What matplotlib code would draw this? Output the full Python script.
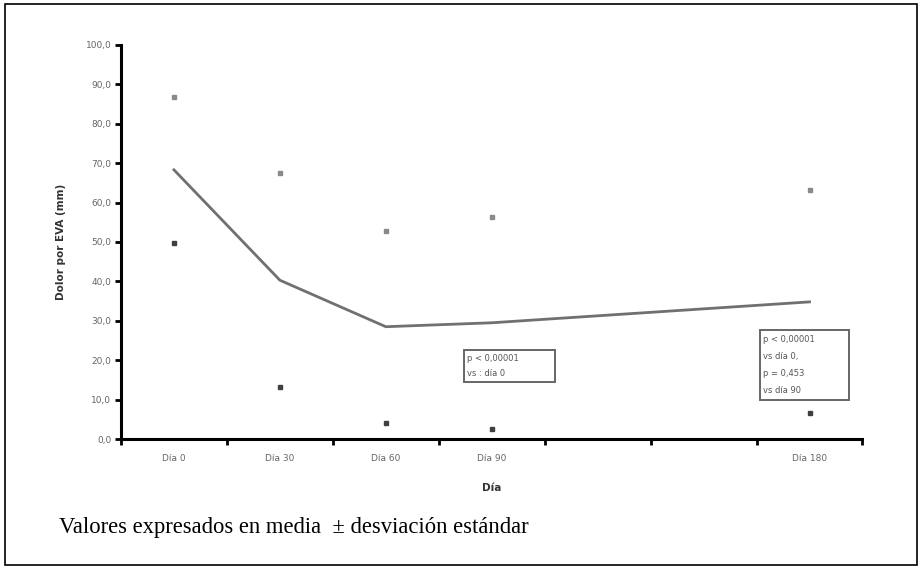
import numpy as np
import matplotlib
matplotlib.use("Agg")
import matplotlib.pyplot as plt
from matplotlib.patches import Rectangle

# categories on the x axis (two empty slots between Dia 90 and Dia 180)
dias = ["Día 0", "Día 30", "Día 60", "Día 90", "", "", "Día 180"]
# mean pain score (mm) and standard deviation, nan where no data
media = [68.3, 40.3, 28.5, 29.5, np.nan, np.nan, 34.8]
desv = [18.6, 27.1, 24.4, 26.9, np.nan, np.nan, 28.3]
yticks = [0, 10, 20, 30, 40, 50, 60, 70, 80, 90, 100]

caja1 = ["p < 0,00001", "vs : día 0"]
caja2 = ["p < 0,00001", "vs día 0,", "p = 0,453", "vs día 90"]

fig = plt.figure(figsize=(9.2, 5.68), dpi=100)
ax = fig.add_axes([0.1315, 0.227, 0.806, 0.694])

x = np.arange(len(dias))
m = np.array(media)
s = np.array(desv)
ok = ~np.isnan(m)

# mean line (connect over the missing categories)
ax.plot(x[ok], m[ok], color="#707070", lw=2, solid_joinstyle="miter")
# mean +/- sd markers
ax.plot(x[ok], m[ok] + s[ok], ls="none", marker="s", ms=2.5, color="#8a8a8a")
ax.plot(x[ok], m[ok] - s[ok], ls="none", marker="s", ms=2.5, color="#404040")

ax.set_xlim(-0.5, len(dias) - 0.5)
ax.set_ylim(0, 100)
ax.set_yticks(yticks)
ax.set_yticklabels([f"{v:.1f}".replace(".", ",") for v in yticks])
ax.set_xticks(x)
ax.set_xticklabels(dias)
ax.set_xticks(np.arange(len(dias) + 1) - 0.5, minor=True)

ax.tick_params(axis="x", which="major", length=0, pad=11, labelsize=6.5, labelcolor="#666666")
ax.tick_params(axis="x", which="minor", length=4, width=2, color="black", direction="out")
ax.tick_params(axis="y", length=4, width=2, pad=3, labelsize=6.5, labelcolor="#666666")

for side in ["top", "right"]:
    ax.spines[side].set_visible(False)
for side in ["left", "bottom"]:
    ax.spines[side].set_linewidth(2.2)

ax.set_ylabel("Dolor por EVA (mm)", fontsize=7.5, fontweight="bold", color="#333333", labelpad=14)
ax.set_xlabel("Día", fontsize=7.5, fontweight="bold", color="#333333", labelpad=14)

# annotation boxes (fixed frames with the text lines inside)
def caja(x0, x1, y0, y1, lineas):
    ax.add_patch(Rectangle((x0, y0), x1 - x0, y1 - y0, fill=False, ec="#666666", lw=1.4))
    paso = (y1 - y0) / (len(lineas) + 0.1)
    for i, t in enumerate(lineas):
        ax.text(x0 + 0.03, y1 - paso * (i + 0.55), t, fontsize=6, color="#555555",
                va="center", ha="left")

caja(2.74, 3.60, 14.5, 22.6, caja1)
caja(5.53, 6.37, 9.9, 27.7, caja2)

fig.text(59 / 920, 1 - 528 / 568, "Valores expresados en media  ± desviación estándar",
         fontsize=16.3, family="Liberation Serif", va="center", ha="left")

# outer frame
fig.patches.append(Rectangle((5 / 920, 3 / 568), 912 / 920, 561 / 568, transform=fig.transFigure,
                             fill=False, ec="black", lw=1.2))

fig.savefig("out.png", dpi=100)
